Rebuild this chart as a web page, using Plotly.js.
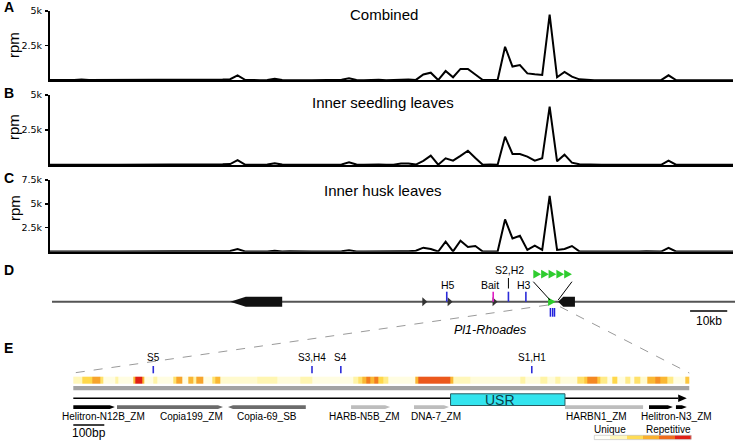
<!DOCTYPE html>
<html><head><meta charset="utf-8">
<script src="https://cdn.plot.ly/plotly-3.0.1.min.js"></script>
<style>html,body{margin:0;padding:0;background:#fff}#chart{width:735px;height:442px}</style>
</head><body><div id="chart"></div>
<script>
// ================= DATA =================
// A-C: read counts (rpm) in consecutive ~2 kb bins
const combinedRpm = [20,30,60,20,20,50,20,20,50,20, 10,10,10,10,10,20,30,60,20,10, 10,10,20,40,50,80,360,30,10,10,
  30,120,30,40,10,10,10,10,10,20, 40,150,30,10,30,40,10,20,70,60, 30,420,550,20,670,220,820,820,420,20,
  30,20,2420,990,1100,500,430,380,4730,220, 600,260,70,20,10,10,10,10,10,10, 20,40,20,10,360,20,10,10,10,10, 10,10,10,10];
const seedlingRpm = [20,30,60,20,20,40,20,20,40,20, 10,10,10,10,10,20,30,60,20,10, 10,10,20,40,50,70,350,30,10,10,
  30,120,30,40,10,10,10,10,10,20, 40,190,30,10,30,30,10,20,110,100, 30,300,670,20,480,310,650,1020,500,20,
  30,20,2020,790,790,600,310,480,4170,260, 740,170,50,20,10,10,10,10,10,10, 20,40,20,10,310,20,10,10,10,10, 10,10,10,10];
const huskRpm = [20,30,80,20,20,50,20,20,50,20, 10,10,10,10,10,20,30,80,20,10, 10,10,20,40,60,80,280,30,10,10,
  30,100,30,40,10,10,10,10,10,20, 40,150,30,10,30,40,10,20,60,40, 100,420,280,20,1040,30,1150,490,590,20,
  20,20,3370,1390,1670,180,630,180,5850,180, 280,590,30,20,10,10,10,10,10,10, 20,40,20,10,400,20,10,10,10,10, 10,10,10,10];
const panelTitles = ['Combined', 'Inner seedling leaves', 'Inner husk leaves'];
const yTickVals = [[2500, 5000], [2500, 5000], [2500, 5000, 7500]];
const yTickText = [['2.5k', '5k'], ['2.5k', '5k'], ['2.5k', '5k', '7.5k']];
const yMax = [5000, 5000, 7500];

// D: locus map (kb)
const geneStartKb = [48.5, 136.8];
const geneEndKb = [62.5, 141.3];
const smallArrowKb = [100.9, 107.7, 119.8];
const probeKb = [106.8, 119.3, 123.4, 128.1];
const probeLabel = ['H5', 'Bait', 'S2,H2', 'H3'];
const insertionKb = 135.1;
const insertArrowKb = [130.1, 132.2, 134.2, 136.3, 138.4];
const bluePlaceKb = [134.7, 135.3, 135.8];
const scaleBarKb = [172.3, 182.3];

// E: zoomed region (bp)
const stripEdgesBp = [0,28,60,86,96,135,144,193,199,222,228,257,270,322,331,351,370,386,396,418,447,457,473,593,657,731,770,903,918,931,944,957,970,983,999,1015,1102,1112,1215,1225,1280,1441,1457,1505,1528,1554,1570,1625,1647,1657,1689,1699,1721,1738,1754,1780,1796,1809,1828,1851,1876,1892,1915,1934,1973,1987];
const stripRepeat = [0.3,0.5,0.65,0.45,0.2,0.35,0.2,0.6,0.95,0.6,0.2,0.35,0.2,0.45,0.65,0.2,0.6,0.35,0.65,0.2,0.45,0.6,0.25,0.32,0.22,0.32,0.2,0.35,0.45,0.6,0.75,0.6,0.75,0.5,0.4,0.2,0.6,0.82,0.6,0.3,0.22,0.35,0.22,0.35,0.22,0.35,0.22,0.45,0.55,0.72,0.55,0.4,0.2,0.5,0.2,0.4,0.2,0.45,0.25,0.6,0.7,0.6,0.4,0.2,0.55];
const eProbeBp = [258, 770, 863, 1479];
const eProbeLabel = ['S5', 'S3,H4', 'S4', 'S1,H1'];
const teName = ['Helitron-N12B_ZM','Copia199_ZM','Copia-69_SB','HARB-N5B_ZM','DNA-7_ZM','HARBN1_ZM','Helitron-N3_ZM','Helitron-N3_ZM'];
const teStartBp = [0, 141, 499, 896, 1099, 1586, 1857, 1944];
const teEndBp = [134, 483, 750, 1022, 1212, 1838, 1934, 1979];
const teStrand = [1, 1, -1, 1, 1, 0, 1, 1];
const usrBp = [1217, 1586];
const regionEndBp = 1987;
const legendLevels = [0.05, 0.3, 0.48, 0.62, 0.78, 0.95];

// ================= LAYOUT CONSTANTS =================
const W = 735, H = 442;
const FONT = 'Liberation Sans, Arial, sans-serif';
const pX = p => p / W, pY = p => (H - p) / H;
const BIN_PX = 7.43, BIN0_PX = 44.4;
const KB_PX = 3.715, KB0_PX = 50;
const BP_PX = 0.31, BP0_PX = 73.3;
const bpToKb = bp => ((BP0_PX + bp * BP_PX) - KB0_PX) / KB_PX;
const pxToKb = p => (p - KB0_PX) / KB_PX;
const pxToBp = p => (p - BP0_PX) / BP_PX;
const panelPx = [[80.3, 11], [165, 95], [251.7, 180]];   // [baseline, top] px
const titlePx = [[384, 15], [383, 103], [383, 190]];
const rpmPx = [45, 127, 208];
const teLabelBp = [99, 380, 625, 939, 1169, 1687, 1946];
const teColor = n => n.startsWith('Helitron') ? '#000000' : (n.startsWith('Copia') ? '#6b6b6b' : '#bdbdbd');
const BLUE = '#2b2bd9', MAGENTA = '#e01fc4', GREEN = '#2ecc2e';
const colorscale = [[0,'#ffffff'],[0.2,'#fffde2'],[0.35,'#fff4a6'],[0.5,'#ffd84a'],[0.62,'#f9b02e'],[0.75,'#f27c1f'],[0.85,'#e8481c'],[1,'#dc0a12']];

const traces = [];
const layout = {
  width: W, height: H, margin: {l: 0, r: 0, t: 0, b: 0},
  paper_bgcolor: '#fff', plot_bgcolor: 'rgba(0,0,0,0)', showlegend: false,
  font: {family: FONT, color: '#000'}, shapes: [], annotations: []
};

// ---- panels A-C ----
const series = [combinedRpm, seedlingRpm, huskRpm];
series.forEach((vals, k) => {
  const n = k + 1, xs = n === 1 ? '' : n, ax = 'x' + xs, ay = 'y' + xs;
  traces.push({type: 'scatter', mode: 'lines', x: vals.map((_, i) => i), y: vals, xaxis: ax, yaxis: ay,
    line: {color: '#000', width: 2}, hoverinfo: 'skip'});
  layout['xaxis' + xs] = {domain: [pX(50), pX(733)], range: [(50 - BIN0_PX) / BIN_PX, (733 - BIN0_PX) / BIN_PX],
    anchor: ay, showline: true, linecolor: '#000', linewidth: 2, showticklabels: false, ticks: '',
    showgrid: false, zeroline: false, fixedrange: true};
  layout['yaxis' + xs] = {domain: [pY(panelPx[k][0]), pY(panelPx[k][1])], range: [0, yMax[k]], anchor: ax,
    showline: true, linecolor: '#000', linewidth: 2, ticks: 'outside', ticklen: 3, tickwidth: 1.2, tickcolor: '#000',
    tickvals: yTickVals[k], ticktext: yTickText[k], tickfont: {family: 'DejaVu Sans, sans-serif', size: 9.5, color: '#000'},
    ticklabelstandoff: 1, showgrid: false, zeroline: false, fixedrange: true};
  layout.annotations.push({xref: 'paper', yref: 'paper', x: pX(titlePx[k][0]), y: pY(titlePx[k][1]), text: panelTitles[k],
    showarrow: false, xanchor: 'center', yanchor: 'middle', font: {size: 15}});
  layout.annotations.push({xref: 'paper', yref: 'paper', x: pX(14), y: pY(rpmPx[k]), text: 'rpm', textangle: -90,
    showarrow: false, xanchor: 'center', yanchor: 'middle', font: {size: 15}});
});
['A', 'B', 'C', 'D', 'E'].forEach((L, i) => {
  layout.annotations.push({xref: 'paper', yref: 'paper', x: pX(2), y: pY([7, 93, 178, 270, 348][i]), text: '<b>' + L + '</b>',
    showarrow: false, xanchor: 'left', yanchor: 'middle', font: {size: 14}});
});

// ---- D & E shared coordinate frame ----
layout.xaxis4 = {domain: [0, 1], range: [pxToKb(0), pxToKb(W)], anchor: 'y4', visible: false, fixedrange: true};
layout.xaxis5 = {domain: [0, 1], range: [pxToBp(0), pxToBp(W)], anchor: 'y4', visible: false, fixedrange: true, overlaying: 'x4'};
layout.yaxis4 = {domain: [0, 1], range: [H, 0], anchor: 'x4', visible: false, fixedrange: true};
const S = layout.shapes, A = layout.annotations;
const DY = 301.7;
// backbone
traces.push({type: 'scatter', mode: 'lines', x: [pxToKb(52), pxToKb(W)], y: [DY, DY], xaxis: 'x4', yaxis: 'y4',
  line: {color: '#555', width: 2}, hoverinfo: 'skip'});
// genes (minus strand, pointing left)
geneStartKb.forEach((s, i) => {
  const e = geneEndKb[i], tip = 0.3 * (e - s);
  S.push({type: 'path', xref: 'x4', yref: 'y4', fillcolor: '#111', line: {width: 0},
    path: `M${s},${DY} L${s + tip},${DY - 5} L${e},${DY - 5} L${e},${DY + 5} L${s + tip},${DY + 5} Z`});
});
// small black arrowheads
smallArrowKb.forEach(k => {
  const w = pxToKb(55) - pxToKb(50);
  S.push({type: 'path', xref: 'x4', yref: 'y4', fillcolor: '#333', line: {width: 0},
    path: `M${k - w / 2},${DY - 4.5} L${k + w / 2},${DY} L${k - w / 2},${DY + 4.5} Z`});
});
// probes
probeKb.forEach((k, i) => {
  const col = probeLabel[i] === 'Bait' ? MAGENTA : BLUE;
  S.push({type: 'line', xref: 'x4', yref: 'y4', x0: k, x1: k, y0: DY - 10, y1: DY, line: {color: col, width: 1.6}});
  const raised = probeLabel[i] === 'S2,H2';
  if (raised) S.push({type: 'line', xref: 'x4', yref: 'y4', x0: k, x1: k, y0: 278, y1: 288.5, line: {color: '#000', width: 1}});
  A.push({xref: 'x4', yref: 'y4', x: k, y: raised ? 270 : 284.5, text: probeLabel[i], showarrow: false,
    xshift: probeLabel[i] === 'Bait' ? -3 : (probeLabel[i] === 'H3' ? -1.5 : 1.5),
    xanchor: 'center', yanchor: 'middle', font: {size: 10.5}});
});
// insertion
const triW = pxToKb(556) - pxToKb(548.3);
S.push({type: 'path', xref: 'x4', yref: 'y4', fillcolor: GREEN, line: {width: 0},
  path: `M${insertionKb - triW / 2},${DY - 4.3} L${insertionKb + triW / 2},${DY} L${insertionKb - triW / 2},${DY + 4.3} Z`});
const aw = insertArrowKb[1] - insertArrowKb[0];
insertArrowKb.forEach(k => {
  S.push({type: 'path', xref: 'x4', yref: 'y4', fillcolor: GREEN, line: {width: 0},
    path: `M${k},${269.8} L${k + aw},${274.2} L${k},${278.6} Z`});
});
const grpEnd = insertArrowKb[insertArrowKb.length - 1] + aw;
S.push({type: 'line', xref: 'x4', yref: 'y4', x0: insertArrowKb[0], y0: 281.7, x1: insertionKb - 0.5, y1: 300, line: {color: '#000', width: 1}});
S.push({type: 'line', xref: 'x4', yref: 'y4', x0: grpEnd, y0: 281.7, x1: insertionKb + 1.7, y1: 300, line: {color: '#000', width: 1}});
bluePlaceKb.forEach(k => S.push({type: 'line', xref: 'x4', yref: 'y4', x0: k, x1: k, y0: 308, y1: 316.7, line: {color: '#2222dd', width: 1.5}}));
// scale bar
S.push({type: 'line', xref: 'x4', yref: 'y4', x0: scaleBarKb[0], x1: scaleBarKb[1], y0: 311, y1: 311, line: {color: '#000', width: 1.5}});
A.push({xref: 'x4', yref: 'y4', x: (scaleBarKb[0] + scaleBarKb[1]) / 2, y: 321, text: '10kb', showarrow: false, font: {size: 12}});
A.push({xref: 'x4', yref: 'y4', x: 118.4, y: 330, text: '<i>Pl1-Rhoades</i>', showarrow: false, font: {size: 12.5}});
// zoom connectors
S.push({type: 'line', xref: 'x4', yref: 'y4', x0: pxToKb(548), y0: 305, x1: bpToKb(0), y1: 373, line: {color: '#9a9a9a', width: 1, dash: 'dash'}});
S.push({type: 'line', xref: 'x4', yref: 'y4', x0: pxToKb(560), y0: 306.7, x1: bpToKb(regionEndBp), y1: 373, line: {color: '#9a9a9a', width: 1, dash: 'dash'}});

// ---- E ----
traces.push({type: 'heatmap', x: stripEdgesBp, y: [376.7, 384], z: [stripRepeat], xaxis: 'x5', yaxis: 'y4',
  colorscale: colorscale, zmin: 0, zmax: 1, showscale: false, hoverinfo: 'skip'});
S.push({type: 'rect', xref: 'x5', yref: 'y4', x0: 0, x1: regionEndBp, y0: 386, y1: 390.2, fillcolor: '#a3a3a3', line: {width: 0}});
// backbone with arrow
const headBp = pxToBp(688) - pxToBp(680);
S.push({type: 'line', xref: 'x5', yref: 'y4', x0: 0, x1: regionEndBp - 10 - headBp, y0: 398.3, y1: 398.3, line: {color: '#000', width: 1.5}});
S.push({type: 'path', xref: 'x5', yref: 'y4', fillcolor: '#000', line: {width: 0},
  path: `M${regionEndBp - 10 - headBp},${394.6} L${regionEndBp - 8},${398.3} L${regionEndBp - 10 - headBp},${402} Z`});
// TEs
const tip = pxToBp(5) - pxToBp(0);
teStartBp.forEach((s, i) => {
  const e = teEndBp[i], yt = 405.2, yb = 409, yc = 407.1;
  let path;
  if (teStrand[i] > 0) path = `M${s},${yt} L${e - tip},${yt} L${e},${yc} L${e - tip},${yb} L${s},${yb} Z`;
  else if (teStrand[i] < 0) path = `M${e},${yt} L${s + tip},${yt} L${s},${yc} L${s + tip},${yb} L${e},${yb} Z`;
  else path = `M${s},${yt} L${e},${yt} L${e},${yb} L${s},${yb} Z`;
  S.push({type: 'path', xref: 'x5', yref: 'y4', fillcolor: teColor(teName[i]), line: {width: 0}, path: path});
});
[...new Set(teName)].forEach((n, i) => {
  A.push({xref: 'x5', yref: 'y4', x: teLabelBp[i], y: 416.5, text: n, showarrow: false, font: {size: 10}});
});
// USR
S.push({type: 'rect', xref: 'x5', yref: 'y4', x0: usrBp[0], x1: usrBp[1], y0: 393.8, y1: 405.5, fillcolor: '#33e4ee', line: {color: '#2a5b60', width: 1}});
A.push({xref: 'x5', yref: 'y4', x: (usrBp[0] + usrBp[1]) / 2 - 25, y: 400, text: 'USR', showarrow: false, font: {size: 14, color: '#0d3f4a'}});
// probes
eProbeBp.forEach((b, i) => {
  S.push({type: 'line', xref: 'x5', yref: 'y4', x0: b, x1: b, y0: 366, y1: 373.3, line: {color: BLUE, width: 1.6}});
  A.push({xref: 'x5', yref: 'y4', x: b, y: 357.5, text: eProbeLabel[i], showarrow: false, font: {size: 10}});
});
// 100 bp scale
S.push({type: 'line', xref: 'x5', yref: 'y4', x0: 0, x1: 100, y0: 425, y1: 425, line: {color: '#000', width: 1.5}});
A.push({xref: 'x5', yref: 'y4', x: 50, y: 432.5, text: '100bp', showarrow: false, font: {size: 12}});
// legend key
const lx0 = pxToBp(594.3), lx1 = pxToBp(691);
traces.push({type: 'heatmap', x: legendLevels.map((_, i) => lx0 + i * (lx1 - lx0) / legendLevels.length).concat([lx1]),
  y: [435.3, 439.6], z: [legendLevels], xaxis: 'x5', yaxis: 'y4', colorscale: colorscale, zmin: 0, zmax: 1, showscale: false, hoverinfo: 'skip'});
S.push({type: 'rect', xref: 'x5', yref: 'y4', x0: lx0, x1: lx1, y0: 435.3, y1: 439.6, line: {color: '#bbb', width: 0.6}});
A.push({xref: 'x5', yref: 'y4', x: pxToBp(610), y: 429, text: 'Unique', showarrow: false, font: {size: 10}});
A.push({xref: 'x5', yref: 'y4', x: pxToBp(668), y: 429, text: 'Repetitive', showarrow: false, font: {size: 10}});

Plotly.newPlot('chart', traces, layout, {staticPlot: true, displayModeBar: false});
</script></body></html>
